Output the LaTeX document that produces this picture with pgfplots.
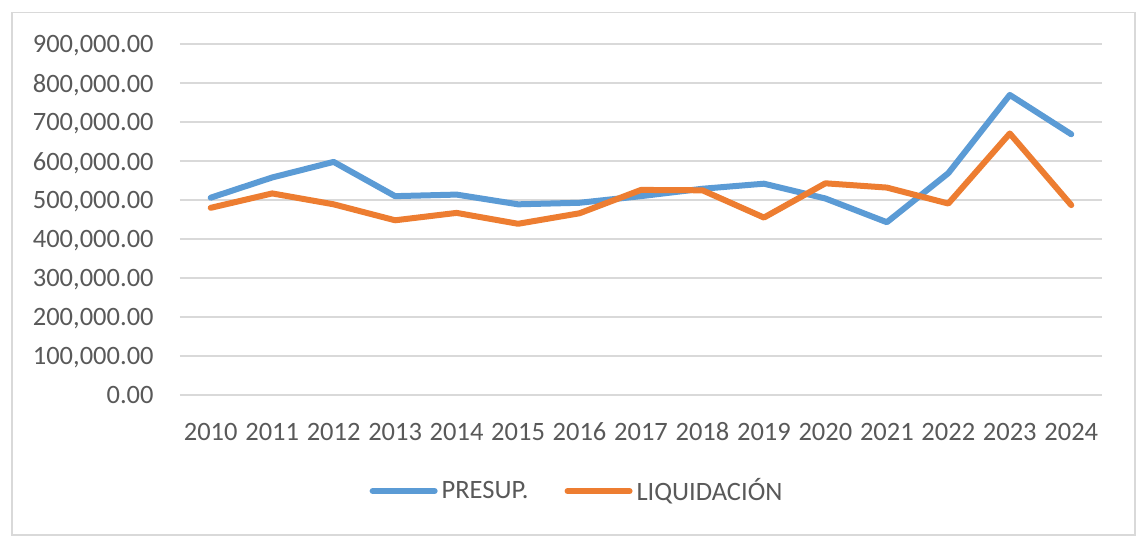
\documentclass[border=0pt]{standalone}
\usepackage{pgfplots}
\pgfplotsset{compat=1.18}
\usepackage{fontspec}
\setmainfont{Carlito}
\definecolor{cblue}{HTML}{5B9BD5}
\definecolor{corange}{HTML}{ED7D31}
\definecolor{cgrid}{HTML}{D9D9D9}
\definecolor{ctext}{HTML}{595959}
\begin{document}
\begin{tikzpicture}
\fill[white] (0pt,0pt) rectangle (574pt,273.5pt);
\draw[cgrid, line width=0.6pt] (6pt,6pt) rectangle (567.5pt,267.3pt);
\begin{axis}[
  at={(90pt,76.15pt)}, anchor=south west,
  scale only axis, width=461pt, height=175.2pt,
  xmin=-0.5, xmax=14.5, ymin=0, ymax=900000,
  clip=false,
  axis line style={draw=none},
  major tick length=0pt,
  xtick={0,...,14},
  xticklabels={2010,2011,2012,2013,2014,2015,2016,2017,2018,2019,2020,2021,2022,2023,2024},
  ytick={0,100000,...,900000},
  scaled y ticks=false,
  /pgf/number format/fixed,
  /pgf/number format/fixed zerofill,
  /pgf/number format/precision=2,
  /pgf/number format/1000 sep={,},
  /pgf/number format/assume math mode=true,
  ymajorgrids, grid style={cgrid, line width=1pt},
  tick label style={font=\fontsize{13.25}{16}\selectfont, text=ctext},
  y tick label style={anchor=east, inner sep=0pt, text depth=0pt, xshift=-13pt},
  x tick label style={anchor=base, inner sep=0pt, yshift=-22.7pt},
  legend style={draw=none, fill=none, at={(0.4317,-0.275)}, anchor=center,
    font=\fontsize{13.25}{16}\selectfont, text=ctext, legend columns=2,
    /tikz/every even column/.append style={column sep=16pt},
    inner sep=0pt, nodes={inner sep=2pt}},
  legend image code/.code={\draw[#1, line cap=round] (0pt,0pt) -- (31pt,0pt);},
  every axis plot/.append style={line width=3pt, line join=round, line cap=round},
]
\addplot[cblue] coordinates {(0,506000)(1,558000)(2,598000)(3,510000)(4,514000)(5,489000)(6,493000)(7,510000)(8,529000)(9,542000)(10,504000)(11,443000)(12,569000)(13,770000)(14,669000)};
\addlegendentry{PRESUP.}
\addplot[corange] coordinates {(0,480000)(1,517000)(2,489000)(3,448000)(4,467000)(5,439000)(6,466000)(7,526000)(8,525000)(9,455000)(10,543000)(11,532000)(12,491000)(13,671000)(14,487000)};
\addlegendentry{LIQUIDACIÓN}
\end{axis}
\end{tikzpicture}
\end{document}
